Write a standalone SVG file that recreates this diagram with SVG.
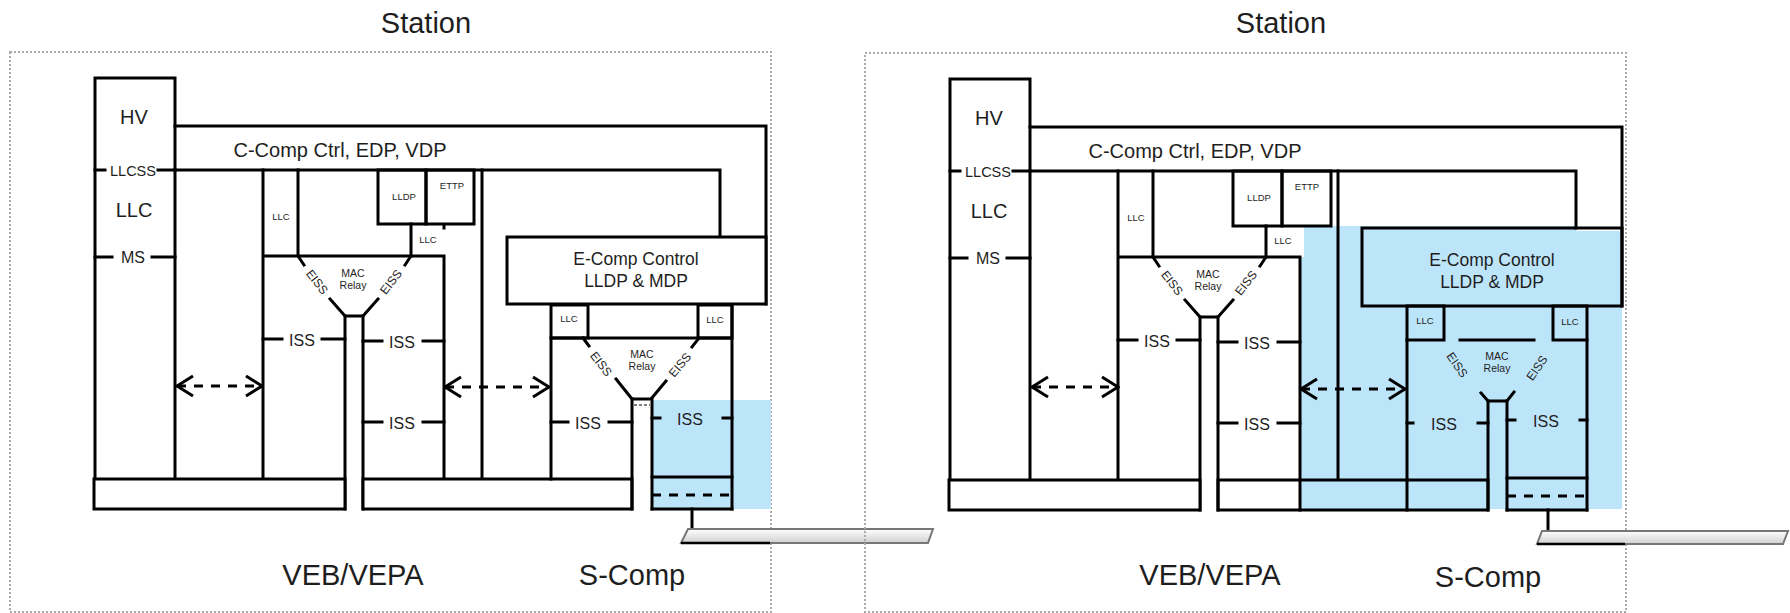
<svg xmlns="http://www.w3.org/2000/svg" width="1790" height="613" viewBox="0 0 1790 613">
<style>
.ln{stroke:#000;stroke-width:3;fill:none;stroke-linecap:square}
.bx{fill:#fff;stroke:#000;stroke-width:3}
.bn{fill:none;stroke:#000;stroke-width:3}
.dsh{stroke-dasharray:9 8;stroke-linecap:butt}
.frame{fill:none;stroke:#aaa;stroke-width:2;stroke-dasharray:2 2}
.blue{fill:#BDE5FA}
.t{font-family:"Liberation Sans",Arial,sans-serif;fill:#1e1e1e;text-anchor:middle}
.big{font-size:29px}
.mid{font-size:20px}
.iss{font-size:16px}
.sm{font-size:9.5px}
.mac{font-size:10.5px}
.eiss{font-size:12px}
.arr{stroke:#000;stroke-width:3;fill:none;stroke-dasharray:9 8}
.cable{fill:url(#cg);stroke:#777;stroke-width:2}
</style>
<defs>
<marker id="chev" viewBox="0 0 20 24" markerUnits="userSpaceOnUse" markerWidth="20" markerHeight="24" refX="18" refY="12" orient="auto-start-reverse">
<path d="M2,2 L18,12 L2,22" fill="none" stroke="#000" stroke-width="3" stroke-dasharray="none"/>
</marker>
<linearGradient id="cg" x1="0" y1="0" x2="0" y2="1">
<stop offset="0" stop-color="#ffffff"/>
<stop offset="1" stop-color="#d0d0d0"/>
</linearGradient>
</defs>
<rect width="1790" height="613" fill="#fff"/>

<!-- ================= LEFT STATION ================= -->
<g id="left-station">
<rect class="frame" x="10" y="52" width="761" height="560"/>
<text class="t big" x="426" y="33">Station</text>
<rect class="blue" x="652" y="400" width="119" height="109"/>

<g id="L-hv">
<path class="ln" d="M95,479 V78 H175 V479"/>
<path class="ln" d="M95,170 H105 M158,170 H175 M95,257 H112 M152,257 H175"/>
<text class="t mid" x="134" y="124">HV</text>
<text class="t" style="font-size:14.5px" x="133" y="176">LLCSS</text>
<text class="t" style="font-size:20px" x="134" y="217">LLC</text>
<text class="t" style="font-size:16px" x="133" y="263">MS</text>
</g>

<g id="L-ccomp">
<path class="ln" d="M175,126 H766 V304"/>
<path class="ln" d="M175,170 H720 V237"/>
<text class="t mid" x="340" y="157">C-Comp Ctrl, EDP, VDP</text>
</g>

<g id="L-ecomp">
<rect class="bx" x="507" y="237" width="259" height="67"/>
<text class="t" style="font-size:17.5px" x="636" y="265">E-Comp Control</text>
<text class="t" style="font-size:17.5px" x="636" y="287">LLDP &amp; MDP</text>
</g>

<g id="L-veb">
<path class="ln" d="M263,170 V479 M298,170 V256 M263,256 H444 V479 M482,170 V479"/>
<text class="t sm" x="281" y="220">LLC</text>
<rect class="bn" x="378" y="170" width="48" height="54"/>
<rect class="bn" x="426" y="170" width="48" height="54"/>
<text class="t sm" x="404" y="200">LLDP</text>
<text class="t sm" x="452" y="189">ETTP</text>
<path class="ln" d="M411,224 V256 M444,225 V228"/>
<text class="t sm" x="428" y="243">LLC</text>
<path class="ln" d="M298,256 L304,265 M330,299 L345,316 H363 L378,299 M405,265 L411,256"/>
<path class="ln" d="M345,316 V509 M363,316 V509"/>
<text class="t eiss" transform="translate(317,282) rotate(52)" dy="4">EISS</text>
<text class="t eiss" transform="translate(391,282) rotate(-52)" dy="4">EISS</text>
<text class="t mac" x="353" y="277">MAC</text>
<text class="t mac" x="353" y="289">Relay</text>
<path class="ln" d="M263,339 H282 M322,339 H345 M363,341 H382 M423,341 H444 M363,422 H382 M423,422 H444"/>
<text class="t iss" x="302" y="346">ISS</text>
<text class="t iss" x="402" y="348">ISS</text>
<text class="t iss" x="402" y="429">ISS</text>
</g>

<g id="L-bars">
<rect class="bx" x="94" y="479" width="251" height="30"/>
<rect class="bx" x="363" y="479" width="269" height="30"/>
</g>

<g id="L-scomp">
<rect class="bn" x="551" y="305" width="37" height="33"/>
<rect class="bn" x="698" y="305" width="34" height="33"/>
<text class="t sm" x="569" y="322">LLC</text>
<text class="t sm" x="715" y="323">LLC</text>
<path class="ln" d="M551,338 V479 M732,305 V509 M551,338 H732"/>
<path class="ln" d="M583,338 L589,346 M616,379 L632,399 H651 L666,381 M692,347 L699,338"/>
<path class="ln" d="M632,399 V509 M652,399 V509"/>
<path d="M634,405 H650" stroke="#000" stroke-width="1" stroke-dasharray="3 2"/>
<text class="t eiss" transform="translate(601,364) rotate(52)" dy="4">EISS</text>
<text class="t eiss" transform="translate(680,365) rotate(-50)" dy="4">EISS</text>
<text class="t mac" x="642" y="358">MAC</text>
<text class="t mac" x="642" y="370">Relay</text>
<path class="ln" d="M551,422 H568 M609,422 H632 M652,418 H660 M723,418 H732"/>
<text class="t iss" x="588" y="429">ISS</text>
<text class="t iss" x="690" y="425">ISS</text>
<path class="ln" d="M652,477 H732 M652,509 H732"/>
<path class="ln dsh" d="M652,495 H732"/>
</g>

<g id="L-cable">
<path class="ln" d="M692,509 V529"/>
<polygon class="cable" points="688,529 933,529 928,543 681,543"/>
<path d="M681,543 H770" stroke="#000" stroke-width="2.5"/>
</g>

<text class="t big" x="353" y="585">VEB/VEPA</text>
<text class="t big" x="632" y="585">S-Comp</text>
</g>

<!-- ================= RIGHT STATION ================= -->
<g id="right-station">
<rect class="frame" x="865" y="53" width="761" height="559"/>
<text class="t big" x="1281" y="33">Station</text>
<rect class="blue" x="1300" y="226" width="322" height="283"/>
<rect fill="#fff" x="1576" y="225" width="46" height="6"/>
<rect fill="#fff" x="1267" y="227" width="37" height="30"/>

<g id="R-hv">
<path class="ln" d="M950,480 V79 H1030 V480"/>
<path class="ln" d="M950,171 H960 M1013,171 H1030 M950,258 H967 M1007,258 H1030"/>
<text class="t mid" x="989" y="125">HV</text>
<text class="t" style="font-size:14.5px" x="988" y="177">LLCSS</text>
<text class="t" style="font-size:20px" x="989" y="218">LLC</text>
<text class="t" style="font-size:16px" x="988" y="264">MS</text>
</g>

<g id="R-ccomp">
<path class="ln" d="M1030,127 H1622 V306"/>
<path class="ln" d="M1030,171 H1576 V228"/>
<text class="t mid" x="1195" y="158">C-Comp Ctrl, EDP, VDP</text>
</g>

<g id="R-ecomp">
<rect class="bn" x="1362" y="228" width="260" height="78"/>
<text class="t" style="font-size:17.5px" x="1492" y="266">E-Comp Control</text>
<text class="t" style="font-size:17.5px" x="1492" y="288">LLDP &amp; MDP</text>
</g>

<g id="R-veb">
<path class="ln" d="M1118,171 V480 M1153,171 V257 M1118,257 H1300 V510 M1338,171 V479"/>
<text class="t sm" x="1136" y="221">LLC</text>
<rect class="bn" x="1233" y="171" width="49" height="55"/>
<rect class="bn" x="1282" y="171" width="49" height="55"/>
<text class="t sm" x="1259" y="201">LLDP</text>
<text class="t sm" x="1307" y="190">ETTP</text>
<path class="ln" d="M1266,226 V257"/>
<text class="t sm" x="1283" y="244">LLC</text>
<path class="ln" d="M1153,257 L1159,266 M1185,300 L1200,317 H1218 L1233,300 M1260,266 L1266,257"/>
<path class="ln" d="M1200,317 V510 M1218,317 V510"/>
<text class="t eiss" transform="translate(1172,283) rotate(52)" dy="4">EISS</text>
<text class="t eiss" transform="translate(1246,283) rotate(-52)" dy="4">EISS</text>
<text class="t mac" x="1208" y="278">MAC</text>
<text class="t mac" x="1208" y="290">Relay</text>
<path class="ln" d="M1118,340 H1137 M1177,340 H1200 M1218,342 H1237 M1278,342 H1300 M1218,423 H1237 M1278,423 H1300"/>
<text class="t iss" x="1157" y="347">ISS</text>
<text class="t iss" x="1257" y="349">ISS</text>
<text class="t iss" x="1257" y="430">ISS</text>
</g>

<g id="R-bars">
<rect class="bx" x="949" y="480" width="251" height="30"/>
<rect class="bn" x="1218" y="480" width="270" height="30"/>
<path class="ln" d="M1407,480 V510"/>
</g>

<g id="R-scomp">
<rect class="bn" x="1407" y="306" width="37" height="34"/>
<rect class="bn" x="1553" y="306" width="34" height="34"/>
<text class="t sm" x="1425" y="324">LLC</text>
<text class="t sm" x="1570" y="325">LLC</text>
<path class="ln" d="M1407,340 V480 M1587,340 V510 M1460,340 H1534"/>
<path class="ln" d="M1481,393 L1488,401 H1507 L1514,392"/>
<path class="ln" d="M1488,401 V510 M1507,401 V510"/>
<text class="t eiss" transform="translate(1457,365) rotate(55)" dy="4">EISS</text>
<text class="t eiss" transform="translate(1537,368) rotate(-55)" dy="4">EISS</text>
<text class="t mac" x="1497" y="360">MAC</text>
<text class="t mac" x="1497" y="372">Relay</text>
<path class="ln" d="M1407,423 H1413 M1478,423 H1488 M1507,420 H1515 M1580,420 H1587"/>
<text class="t iss" x="1444" y="430">ISS</text>
<text class="t iss" x="1546" y="427">ISS</text>
<path class="ln" d="M1507,478 H1587 M1507,510 H1587"/>
<path class="ln dsh" d="M1507,496 H1587"/>
</g>

<g id="R-cable">
<path class="ln" d="M1548,510 V531"/>
<polygon class="cable" points="1542,531 1788,531 1783,544 1537,544"/>
<path d="M1537,544 H1625" stroke="#000" stroke-width="2.5"/>
</g>

<text class="t big" x="1210" y="585">VEB/VEPA</text>
<text class="t big" x="1488" y="587">S-Comp</text>
</g>

<!-- ================= CONNECTORS ================= -->
<g id="connectors">
<path class="arr" d="M177,386 H262" marker-start="url(#chev)" marker-end="url(#chev)"/>
<path class="arr" d="M445,387 H549" marker-start="url(#chev)" marker-end="url(#chev)"/>
<path class="arr" d="M1032,387 H1118" marker-start="url(#chev)" marker-end="url(#chev)"/>
<path class="arr" d="M1301,389 H1405" marker-start="url(#chev)" marker-end="url(#chev)"/>
</g>
</svg>
